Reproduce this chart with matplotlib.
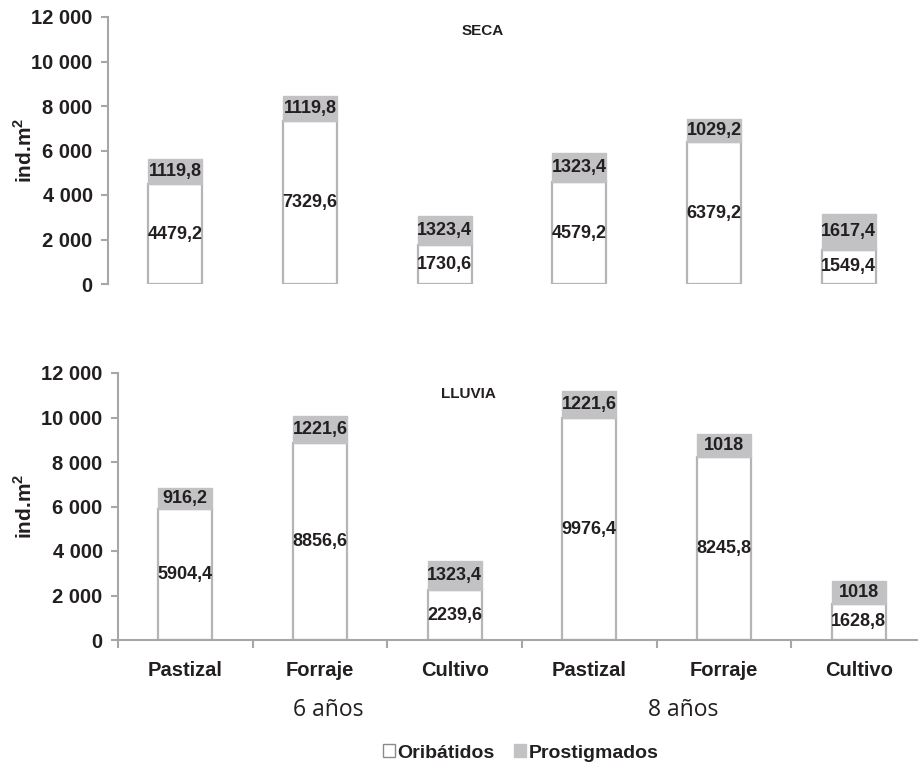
import matplotlib
matplotlib.use("Agg")
import matplotlib.pyplot as plt
from matplotlib.patches import Patch
from matplotlib.ticker import FuncFormatter, FixedLocator, NullLocator

plt.rcParams['font.family'] = ['Liberation Sans', 'DejaVu Sans']
plt.rcParams['mathtext.fontset'] = 'custom'
plt.rcParams['mathtext.rm'] = 'Liberation Sans'
plt.rcParams['mathtext.bf'] = 'Liberation Sans:bold'

categories = ["Pastizal", "Forraje", "Cultivo", "Pastizal", "Forraje", "Cultivo"]
groups = ["6 años", "8 años"]
seca_orib = [4479.2, 7329.6, 1730.6, 4579.2, 6379.2, 1549.4]
seca_prost = [1119.8, 1119.8, 1323.4, 1323.4, 1029.2, 1617.4]
lluvia_orib = [5904.4, 8856.6, 2239.6, 9976.4, 8245.8, 1628.8]
lluvia_prost = [916.2, 1221.6, 1323.4, 1221.6, 1018, 1018]
series_names = ["Oribátidos", "Prostigmados"]
yticks = [0, 2000, 4000, 6000, 8000, 10000, 12000]

TXT = "#231f20"
SPINE = "#a7a7ab"
GRAY = "#c2c2c4"
EDGE = "#b5b5b9"

W, H = 918, 766
fig = plt.figure(figsize=(W / 100, H / 100), dpi=100)


def fmt_num(v):
    s = ("%.1f" % v).rstrip("0").rstrip(".")
    return s.replace(".", ",")


def tick_fmt(v, pos):
    return "{:,.0f}".format(v).replace(",", " ")


def make_panel(left_px, bottom_px, top_px, orib, prost, title, title_xy, show_x):
    ax = fig.add_axes([left_px / W, 1 - bottom_px / H, 808 / W, (bottom_px - top_px) / H])
    x = list(range(len(categories)))
    ax.bar(x, orib, width=0.40, color="white", edgecolor=EDGE, linewidth=1.6, zorder=2)
    ax.bar(x, prost, width=0.40, bottom=orib, color=GRAY, edgecolor=GRAY, linewidth=1.0, zorder=3)
    for xi, o, p in zip(x, orib, prost):
        ax.text(xi, o / 2, fmt_num(o), ha="center", va="center", fontsize=13,
                fontweight="bold", color=TXT, zorder=4)
        ax.text(xi, o + p / 2, fmt_num(p), ha="center", va="center", fontsize=13,
                fontweight="bold", color=TXT, zorder=4)
    ax.set_xlim(-0.5, 5.5)
    ax.set_ylim(0, 12000)
    ax.set_yticks(yticks)
    ax.yaxis.set_major_formatter(FuncFormatter(tick_fmt))
    for s in ["top", "right"]:
        ax.spines[s].set_visible(False)
    ax.spines["left"].set_color(SPINE)
    ax.spines["left"].set_linewidth(1.5)
    ax.tick_params(axis="y", length=5, width=1.5, color=SPINE, pad=6,
                   labelsize=14.5, labelcolor=TXT)
    for lab in ax.get_yticklabels():
        lab.set_fontweight("bold")
    if show_x:
        ax.spines["bottom"].set_color(SPINE)
        ax.spines["bottom"].set_linewidth(1.5)
        ax.xaxis.set_major_locator(FixedLocator(x))
        ax.set_xticklabels(categories, fontsize=14.5, fontweight="bold", color=TXT)
        ax.xaxis.set_minor_locator(FixedLocator([i - 0.5 for i in range(7)]))
        ax.tick_params(axis="x", which="major", length=0, pad=15)
        ax.tick_params(axis="x", which="minor", length=6, width=1.5, color=SPINE)
    else:
        ax.spines["bottom"].set_visible(False)
        ax.xaxis.set_major_locator(NullLocator())
    fig.text(title_xy[0] / W, 1 - title_xy[1] / H, title, ha="center", va="center",
             fontsize=11, fontweight="bold", color=TXT)
    fig.text(24 / W, 1 - ((bottom_px + top_px) / 2) / H, r"ind.m$^{\mathregular{2}}$",
             rotation=90, ha="center", va="center", fontsize=15, fontweight="bold",
             color=TXT)
    return ax


make_panel(108, 284, 17, seca_orib, seca_prost, "SECA", (483, 31), False)
make_panel(118, 640, 373, lluvia_orib, lluvia_prost, "LLUVIA", (468, 394), True)

for g, gx in zip(groups, [328, 683]):
    fig.text(gx / W, 1 - 710 / H, g, ha="center", va="center", fontsize=16.5,
             family=["Open Sans", "DejaVu Sans"], color=TXT)

handles = [Patch(facecolor="white", edgecolor="#8a8a8e", linewidth=1.0),
           Patch(facecolor=GRAY, edgecolor=GRAY)]
leg = fig.legend(handles, series_names, loc="center", bbox_to_anchor=(521 / W, 1 - 753 / H),
                 ncol=2, frameon=False, handlelength=0.6, handleheight=0.6,
                 handletextpad=0.15, columnspacing=1.0,
                 prop={"weight": "bold", "size": 14})
for t in leg.get_texts():
    t.set_color(TXT)

fig.savefig("out.png", dpi=100)
